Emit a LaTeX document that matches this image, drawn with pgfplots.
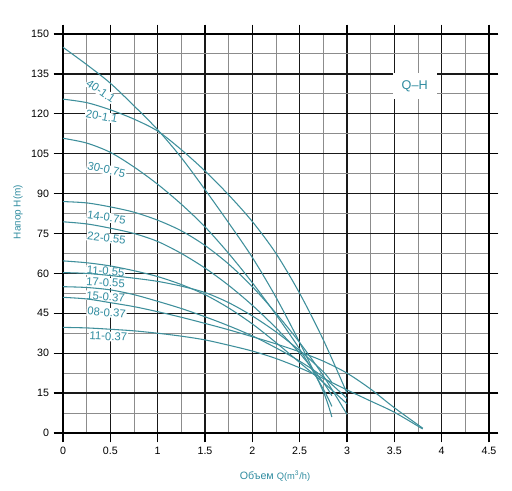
\documentclass[border=0pt]{standalone}
\usepackage{fontspec}
\setmainfont{Liberation Sans}
\usepackage{pgfplots}
\pgfplotsset{compat=1.18}
\definecolor{crv}{RGB}{62,143,155}
\definecolor{txt}{RGB}{48,140,160}
\tikzset{lbl/.style={fill=white, inner sep=0.6pt, text=txt, font=\fontsize{8.5}{9}\selectfont},
 cv/.style={crv, line width=0.8pt, smooth, tension=0.5, mark=none}}
\begin{document}
\begin{tikzpicture}
\begin{axis}[
 at={(0,0)}, anchor=south west,
 scale only axis, width=319.5pt, height=299.25pt,
 xmin=0, xmax=4.5, ymin=0, ymax=150,
 xtick={0,0.5,1,1.5,2,2.5,3,3.5,4,4.5},
 ytick={0,15,30,45,60,75,90,105,120,135,150},
 minor x tick num=1, minor y tick num=1,
 grid=both,
 major grid style={black!90, line width=1pt},
 minor grid style={black!45, line width=0.7pt},
 axis line style={black, line width=1.1pt},
 tick align=outside,
 major tick length=7pt,
 minor tick length=0pt,
 tick style={black, line width=1pt},
 xticklabel style={font=\fontsize{8}{9}\selectfont},
 yticklabel style={font=\fontsize{8}{9}\selectfont},
 /pgf/number format/assume math mode=true,
 /pgf/number format/fixed,
]
\node[lbl, rotate=-35] at (axis cs:0.40,128.5) {40-1.1};
\node[lbl, rotate=-10] at (axis cs:0.41,119) {20-1.1};
\node[lbl, rotate=-13] at (axis cs:0.46,99) {30-0.75};
\node[lbl, rotate=-8] at (axis cs:0.46,81) {14-0.75};
\node[lbl, rotate=-7] at (axis cs:0.46,73.3) {22-0.55};
\node[lbl, rotate=-4] at (axis cs:0.45,60.8) {11-0.55};
\node[lbl, rotate=-3] at (axis cs:0.45,56.5) {17-0.55};
\node[lbl, rotate=-5] at (axis cs:0.45,51.2) {15-0.37};
\node[lbl, rotate=-5] at (axis cs:0.46,45.3) {08-0.37};
\node[lbl, rotate=-3] at (axis cs:0.48,36.3) {11-0.37};
\node[fill=white, minimum width=33pt, minimum height=20pt, text=txt, font=\fontsize{9.5}{10}\selectfont] at (axis cs:3.715,130.5) {Q--H};
% 40-1.1
\addplot[cv] coordinates {(0,145) (0.25,138.5) (0.5,131.5) (0.75,123) (1,114) (1.25,103.5) (1.5,91.5) (1.75,79) (2,66) (2.25,51) (2.5,34) (2.75,15.5) (2.84,6)};
% 20-1.1
\addplot[cv] coordinates {(0,125.5) (0.25,124.2) (0.5,121.5) (0.75,118) (1,113.5) (1.25,106.5) (1.5,98.5) (1.75,89.5) (2,79.5) (2.25,67.5) (2.5,52.5) (2.75,35) (3,15)};
% 30-0.75
\addplot[cv] coordinates {(0,110.8) (0.25,109) (0.5,105.5) (0.75,100) (1,93.5) (1.25,86) (1.5,77.5) (1.75,67.5) (2,56.5) (2.25,44.5) (2.5,31.5) (2.75,16.5) (2.84,10)};
% 14-0.75
\addplot[cv] coordinates {(0,87) (0.25,86.5) (0.5,85) (0.75,83) (1,80) (1.25,76) (1.5,70.5) (1.75,63.5) (2,55) (2.25,45) (2.5,34) (2.75,21.5) (3,7)};
% 22-0.55
\addplot[cv] coordinates {(0,79.4) (0.25,78.6) (0.5,77) (0.75,75) (1,72) (1.25,67.5) (1.5,62) (1.75,55.5) (2,48) (2.25,39.5) (2.5,30) (2.75,19) (2.84,14)};
% 11-0.55
\addplot[cv] coordinates {(0,64.7) (0.25,64) (0.5,62.8) (0.75,61) (1,58.8) (1.25,55.8) (1.5,52) (1.75,47) (2,41) (2.25,34) (2.5,26.5) (2.75,19) (3,11)};
% 17-0.55
\addplot[cv] coordinates {(0,60.3) (0.25,60) (0.5,59.2) (0.75,58.2) (1,57) (1.25,55.2) (1.5,52.8) (1.75,49) (2,44) (2.25,38) (2.5,31) (2.75,23) (2.84,19)};
% 15-0.37
\addplot[cv] coordinates {(0,55) (0.25,54.7) (0.5,53.8) (0.75,52) (1,49.5) (1.25,46.8) (1.5,43.7) (1.75,40.3) (2,36.5) (2.25,32) (2.5,27) (2.75,21) (3,13)};
% 08-0.37
\addplot[cv] coordinates {(0,51) (0.25,50.4) (0.5,49) (0.75,47.5) (1,45.6) (1.25,43.5) (1.5,41.2) (1.75,38.8) (2,36.2) (2.25,33.5) (2.5,30.5) (2.75,27) (3,22.5) (3.25,16.5) (3.5,9.5) (3.8,1.8)};
% 11-0.37
\addplot[cv] coordinates {(0,39.7) (0.25,39.5) (0.5,39) (0.75,38.4) (1,37.5) (1.25,36.4) (1.5,35) (1.75,33) (2,30.8) (2.25,28) (2.5,24.5) (2.75,20.5) (3,16.2) (3.25,12) (3.5,7.8) (3.8,1.5)};
\end{axis}
\node[rotate=90, text=txt, font=\fontsize{7.5}{9}\selectfont] at (-33.75pt,165.75pt) {Напор H(m)};
\node[text=txt, font=\fontsize{8}{9}\selectfont] at (159pt,-32.25pt) {Объем {\fontsize{7}{8}\selectfont Q(m\textsuperscript{3}/h)}};
\pgfresetboundingbox
\path[use as bounding box] (-47.25pt,-43.5pt) rectangle (336.75pt,324.75pt);
\end{tikzpicture}
\end{document}
